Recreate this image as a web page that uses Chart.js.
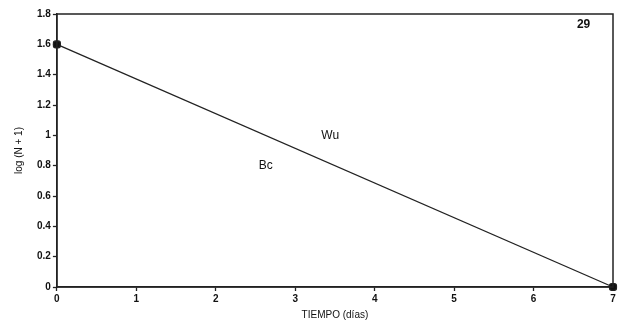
<!DOCTYPE html>
<html>
<head>
<meta charset="utf-8">
<script src="https://cdn.jsdelivr.net/npm/chart.js@4/dist/chart.umd.min.js"></script>
<style>
  html, body { margin: 0; padding: 0; background: #fff; }
  #wrap { width: 621px; height: 323px; }
</style>
</head>
<body>
<div id="wrap"><canvas id="myChart" width="621" height="323"></canvas></div>
<script>
// Datos del gráfico
const tiempo = [0, 7];
const logN = [1.6, 0];
const etiquetas = [
    { text: '29', x: 6.63, y: 1.73, bold: true },
    { text: 'Wu', x: 3.44, y: 1.0 },
    { text: 'Bc', x: 2.63, y: 0.8 }
];

const ctx = document.getElementById('myChart').getContext('2d');
Chart.defaults.font.family = '"Liberation Sans", Arial, sans-serif';
Chart.defaults.color = '#111';

// Marco y textos dentro del área
const marco = {
    id: 'marco',
    afterDraw(chart) {
        const a = chart.chartArea;
        const c = chart.ctx;
        c.save();
        c.strokeStyle = '#222';
        c.lineWidth = 1.5;
        c.strokeRect(a.left, a.top, a.right - a.left, a.bottom - a.top);
        c.fillStyle = '#111';
        c.textAlign = 'center';
        c.textBaseline = 'middle';
        const xs = chart.scales.x, ys = chart.scales.y;
        etiquetas.forEach(e => {
            c.font = (e.bold ? 'bold ' : '') + '12px "Liberation Sans", Arial, sans-serif';
            c.fillText(e.text, xs.getPixelForValue(e.x), ys.getPixelForValue(e.y));
        });
        c.restore();
    }
};

const config = {
    type: 'scatter',
    data: {
        datasets: [{
            data: tiempo.map((t, i) => ({ x: t, y: logN[i] })),
            showLine: true,
            borderColor: '#222',
            borderWidth: 1.3,
            backgroundColor: '#111',
            pointStyle: 'rectRounded',
            pointRadius: 4,
            clip: false
        }]
    },
    options: {
        responsive: false,
        animation: false,
        layout: { padding: { top: 14, right: 8, left: 13, bottom: 2 } },
        plugins: {
            legend: { display: false },
            tooltip: { enabled: false }
        },
        scales: {
            x: {
                type: 'linear',
                min: 0,
                max: 7,
                ticks: { stepSize: 1, font: { size: 10, weight: 'bold' }, padding: 2 },
                grid: { drawOnChartArea: false, color: '#222', tickLength: 4, tickWidth: 1.3 },
                border: { color: '#222', width: 1.5 },
                title: { display: true, text: 'TIEMPO (días)', font: { size: 10 }, padding: { top: 2, bottom: 0 } }
            },
            y: {
                min: 0,
                max: 1.8,
                ticks: {
                    stepSize: 0.2,
                    font: { size: 10, weight: 'bold' },
                    padding: 2,
                    callback: v => String(Math.round(v * 10) / 10)
                },
                grid: { drawOnChartArea: false, color: '#222', tickLength: 4, tickWidth: 1.3 },
                border: { color: '#222', width: 1.5 },
                title: { display: true, text: 'log (N + 1)', font: { size: 10 }, padding: { top: 0, bottom: 10 } }
            }
        }
    },
    plugins: [marco]
};

const myChart = new Chart(ctx, config);
</script>
</body>
</html>
